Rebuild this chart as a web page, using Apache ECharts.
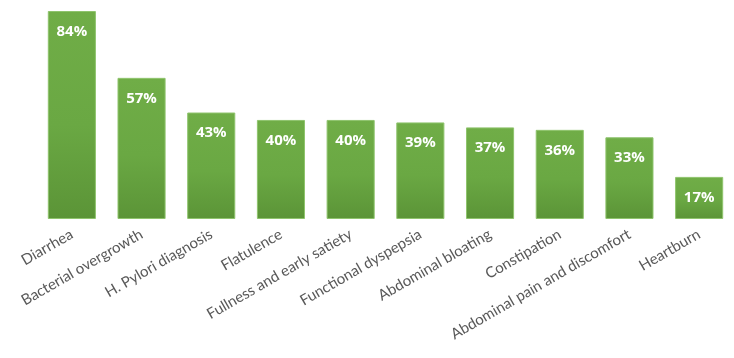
<!DOCTYPE html>
<html><head><meta charset="utf-8">
<script src="https://cdn.jsdelivr.net/npm/echarts@6/dist/echarts.min.js"></script>
<style>html,body{margin:0;padding:0;background:#fff}#c{width:734px;height:358px}</style>
</head><body><div id="c"></div>
<script>
const categories = ["Diarrhea","Bacterial overgrowth","H. Pylori diagnosis","Flatulence","Fullness and early satiety","Functional dyspepsia","Abdominal bloating","Constipation","Abdominal pain and discomfort","Heartburn"];
const values = [84,57,43,40,40,39,37,36,33,17];

const chart = echarts.init(document.getElementById('c'));
chart.setOption({
  animation:false,
  grid:{left:37,right:0,top:11,bottom:139,containLabel:false},
  xAxis:{type:'category',data:categories,
    axisLine:{show:false},axisTick:{show:false},
    axisLabel:{rotate:30,interval:0,margin:14,color:'#595959',fontFamily:'Lato, "Open Sans", sans-serif',fontSize:15}},
  yAxis:{type:'value',min:0,max:84,show:false,splitLine:{show:false}},
  series:[{type:'bar',data:values,barCategoryGap:'31%',
    itemStyle:{
      color:new echarts.graphic.LinearGradient(0,0,0,1,[{offset:0,color:'#70ad47'},{offset:0.55,color:'#6aa843'},{offset:1,color:'#5b9437'}]),
      borderColor:'#8fc46d',borderWidth:1},
    label:{show:true,position:'insideTop',distance:13,formatter:'{c}%',color:'#fff',fontWeight:'bold',fontSize:15,fontFamily:'"Open Sans", sans-serif'}
  }]
});
</script></body></html>
